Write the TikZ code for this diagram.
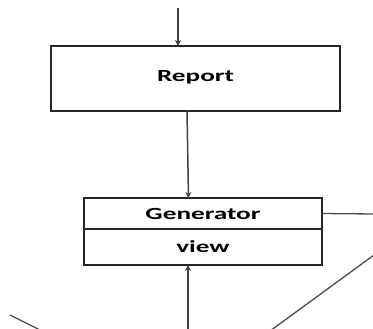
\documentclass[tikz,border=0pt]{standalone}
\usepackage{fontspec}
\setmainfont[FakeStretch=1.6]{Carlito}
\usepackage{tikz}
\usetikzlibrary{arrows.meta}
\usetikzlibrary{positioning}

\begin{document}
\begin{tikzpicture}
  [
    x = 1pt, y = -1pt,
    node distance = 87pt and 0pt,
    box/.style = {draw = black!85, line width = 1.7pt, outer sep = 0pt,
                  align = center, font = \bfseries\fontsize{17}{20}\selectfont},
    report/.style = {box, minimum width = 289pt, minimum height = 65pt},
    part/.style = {box, minimum width = 238pt},
    arrow/.style = {-{Stealth[length=6pt, width=6pt]}, line width = 1.5pt, draw = black!75},
    wire/.style = {line width = 1.3pt, draw = black!70},
  ]

  \useasboundingbox (0,0) rectangle (373,329);

  \node[report] (report) at (195.5,78.5) {\raisebox{5pt}{Report}};
  \node[part, minimum height = 31pt] [below = of report, xshift = 7.5pt] (gen) {Generator};
  \node[part, minimum height = 36pt] [below = 0pt of gen] (view) {view};

  \coordinate (in_top) at (178,8);
  \coordinate (in_bottom) at (188,331);
  \coordinate (gen_right) at (374,214);
  \coordinate (diag_top) at (374,255);
  \coordinate (diag_bottom) at (270,331);
  \coordinate (left_top) at (10,315);
  \coordinate (left_bottom) at (42,331);

  \draw[arrow] (in_top) -- (report.north -| in_top);
  \draw[arrow] ([xshift = -8.5pt]report.south) -- ([xshift = -14.5pt]gen.north);
  \draw[arrow] (in_bottom) -- (view.south -| in_bottom);

  \draw[wire] (gen.east) -- (gen_right);
  \draw[wire] (diag_top) -- (diag_bottom);
  \draw[wire] (left_top) -- (left_bottom);

\end{tikzpicture}
\end{document}
